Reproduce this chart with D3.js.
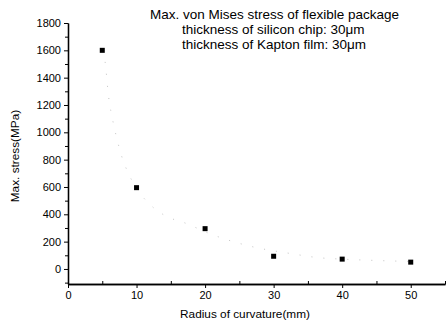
<!DOCTYPE html>
<html>
<head>
<meta charset="utf-8">
<script src="https://cdn.jsdelivr.net/npm/d3@7"></script>
<style>
  body { margin: 0; background: #fff; }
  text { font-family: "Liberation Sans", Arial, sans-serif; fill: #000; }
</style>
</head>
<body>
<div id="chart"></div>
<script>
// measured points
const radius = [5, 10, 20, 30, 40, 50];
const stress = [1600, 595, 295, 93, 72, 50];

// faint fitted curve
const fitX = [5, 5.4, 5.9, 6.6, 7.2, 7.8, 9, 10, 12, 14, 17.3, 20.6, 26.3, 32.6, 36.5, 40, 45, 50];
const fitY = [1600, 1520, 1270, 1070, 940, 830, 680, 590, 470, 395, 332, 260, 170, 112, 83, 72, 62, 55];

const xTicks = [0, 10, 20, 30, 40, 50];
const yTicks = [0, 200, 400, 600, 800, 1000, 1200, 1400, 1600, 1800];

const titleLines = [
  "Max. von Mises stress of flexible package",
  "thickness of silicon chip: 30\u03bcm",
  "thickness of Kapton film: 30\u03bcm"
];

const dims = { width: 447, height: 326, left: 68, right: 2, top: 10, bottom: 42 };

const svg = d3.select("#chart").append("svg")
  .attr("width", dims.width)
  .attr("height", dims.height);

const x = d3.scaleLinear().domain([0, 55]).range([dims.left, dims.width - dims.right]);
const y = d3.scaleLinear().domain([-110, 1800]).range([dims.height - dims.bottom, 23]);

// fitted curve (very faint, dotted)
const fit = fitX.map((d, i) => ({ x: d, y: fitY[i] }));
svg.append("path")
  .datum(fit)
  .attr("fill", "none")
  .attr("stroke", "#c4c4c4")
  .attr("stroke-width", 1)
  .attr("stroke-dasharray", "1,11")
  .attr("d", d3.line().x(d => x(d.x)).y(d => y(d.y)).curve(d3.curveMonotoneX));

// axes
svg.append("g")
  .attr("transform", `translate(0,${y(-110)})`)
  .call(d3.axisBottom(x).tickValues(xTicks).tickSize(4).tickSizeOuter(0).tickPadding(3).tickFormat(d3.format("d")));
svg.append("g")
  .attr("transform", `translate(0,${y(-110)})`)
  .call(d3.axisBottom(x).tickValues([5, 15, 25, 35, 45, 55]).tickSize(-3).tickSizeOuter(0).tickFormat(""));

svg.append("g")
  .attr("transform", `translate(${x(0)},0)`)
  .call(d3.axisLeft(y).tickValues(yTicks).tickSize(4).tickSizeOuter(0).tickPadding(3).tickFormat(d3.format("d")));
svg.append("g")
  .attr("transform", `translate(${x(0)},0)`)
  .call(d3.axisLeft(y).tickValues(d3.range(-100, 1800, 200)).tickSize(3).tickSizeOuter(0).tickFormat(""));

svg.selectAll(".domain").attr("stroke", "#000").attr("stroke-width", 1.3);
svg.selectAll(".tick line").attr("stroke", "#000");
svg.selectAll(".tick text").attr("font-size", 11).attr("font-family", "Liberation Sans, Arial, sans-serif");

// points
svg.append("g")
  .selectAll("rect")
  .data(radius)
  .join("rect")
  .attr("x", (d) => x(d) - 2.5)
  .attr("y", (d, i) => y(stress[i]) - 2.5)
  .attr("width", 5)
  .attr("height", 5)
  .attr("fill", "#000");

// axis titles
svg.append("text")
  .attr("x", 245)
  .attr("y", 318)
  .attr("text-anchor", "middle")
  .attr("font-size", 11.8)
  .text("Radius of curvature(mm)");

svg.append("text")
  .attr("transform", "translate(19,156) rotate(-90)")
  .attr("text-anchor", "middle")
  .attr("font-size", 11.8)
  .text("Max. stress(MPa)");

// title block
svg.selectAll(".title")
  .data(titleLines)
  .join("text")
  .attr("class", "title")
  .attr("x", (d, i) => i === 0 ? 150 : 182)
  .attr("y", (d, i) => 19 + i * 15)
  .attr("font-size", 13.5)
  .text(d => d);
</script>
</body>
</html>
